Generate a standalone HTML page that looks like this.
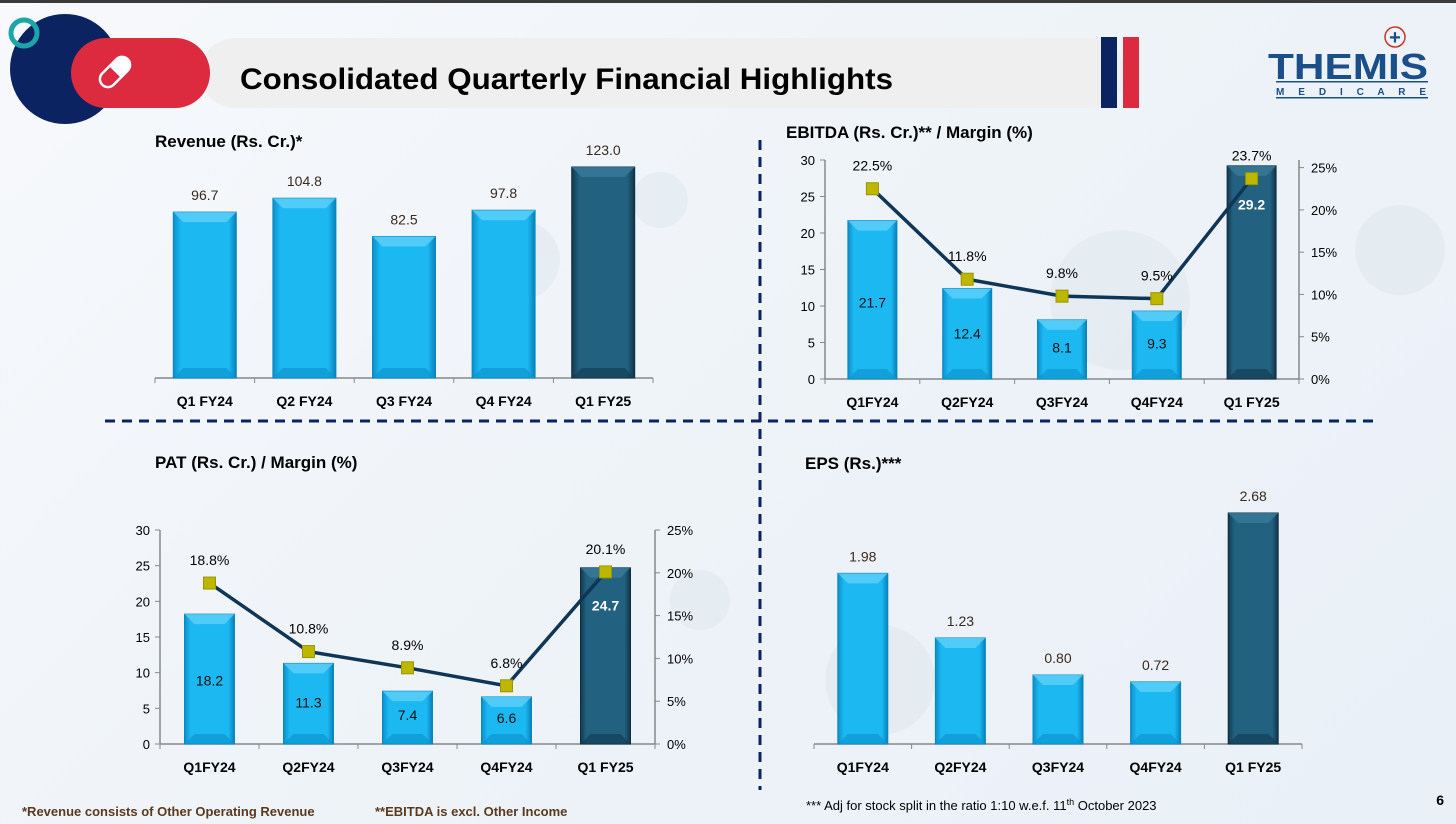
<!DOCTYPE html>
<html><head><meta charset="utf-8"><style>
html,body{margin:0;padding:0;width:1456px;height:824px;overflow:hidden;font-family:"Liberation Sans",sans-serif}
body{background:linear-gradient(135deg,#f7f9fc 0%,#eef3f8 50%,#e9f0f7 100%)}
svg text{font-family:"Liberation Sans",sans-serif}
</style></head><body>
<svg id="s" width="1456" height="824" xmlns="http://www.w3.org/2000/svg">
<defs>
<linearGradient id="lb" x1="0" x2="1"><stop offset="0" stop-color="#0b8fcc"/><stop offset="0.12" stop-color="#1bb8f2"/><stop offset="0.88" stop-color="#1bb8f2"/><stop offset="1" stop-color="#0a7fb6"/></linearGradient>
<linearGradient id="db" x1="0" x2="1"><stop offset="0" stop-color="#12394f"/><stop offset="0.12" stop-color="#22617f"/><stop offset="0.88" stop-color="#22617f"/><stop offset="1" stop-color="#10344a"/></linearGradient>
</defs>
<rect x="0" y="0" width="1456" height="3" fill="#3a3a3a"/>
<g fill="#dfe7ef" opacity="0.6">
<circle cx="520" cy="260" r="40"/><circle cx="660" cy="200" r="28"/><circle cx="1120" cy="300" r="70"/><circle cx="880" cy="680" r="55"/><circle cx="1400" cy="250" r="45"/><circle cx="700" cy="600" r="30"/>
</g>
<g>
<rect x="200" y="38" width="925" height="70" rx="35" fill="#efefef"/>
<circle cx="65" cy="69" r="55" fill="#0b2461"/>
<circle cx="24" cy="33" r="13" fill="none" stroke="#1ea5aa" stroke-width="5"/>
<rect x="71" y="38" width="139" height="70" rx="35" fill="#dc2a3e"/>
<g transform="translate(115,72) rotate(-45)"><rect x="-18" y="-8" width="36" height="16" rx="8" fill="none" stroke="#fff" stroke-width="2.5"/><path d="M0,-8 L10,-8 A8,8 0 0 1 10,8 L0,8 Z" fill="#fff"/></g>
<text x="240" y="89" font-size="30" font-weight="bold" fill="#000" textLength="653" lengthAdjust="spacingAndGlyphs">Consolidated Quarterly Financial Highlights</text>
<rect x="1101" y="37" width="16" height="71" fill="#0b2461"/>
<rect x="1123" y="37" width="16" height="71" fill="#dc2a3e"/>
<g>
<circle cx="1395" cy="37" r="10" fill="none" stroke="#c0392b" stroke-width="1.5"/><text x="1395" y="44" font-size="20" font-weight="bold" fill="#1b4f8a" text-anchor="middle">+</text>
<text x="1268" y="79" font-size="36" font-weight="bold" fill="#1b4f8a" textLength="160" lengthAdjust="spacingAndGlyphs">THEMIS</text>
<rect x="1276" y="81" width="152" height="1.5" fill="#1b4f8a"/>
<text x="1276" y="95" font-size="10" font-weight="bold" fill="#1b4f8a" textLength="150" lengthAdjust="spacing">M E D I C A R E</text>
<rect x="1276" y="97" width="152" height="1.5" fill="#1b4f8a"/>
</g>
</g>
<line x1="105" y1="421" x2="1375" y2="421" stroke="#0b2461" stroke-width="3" stroke-dasharray="10,7"/>
<line x1="760" y1="140" x2="760" y2="790" stroke="#0b2461" stroke-width="3" stroke-dasharray="10,7"/>
<text x="155" y="147" font-size="17" font-weight="bold">Revenue (Rs. Cr.)*</text>
<text x="786" y="138" font-size="17" font-weight="bold">EBITDA (Rs. Cr.)** / Margin (%)</text>
<text x="155" y="468" font-size="17" font-weight="bold">PAT (Rs. Cr.) / Margin (%)</text>
<text x="805" y="469" font-size="17" font-weight="bold">EPS (Rs.)***</text>
<text x="22" y="816" font-size="13" font-weight="bold" fill="#5a3a1e">*Revenue consists of Other Operating Revenue</text>
<text x="375" y="816" font-size="13" font-weight="bold" fill="#5a3a1e">**EBITDA is excl. Other Income</text>
<text x="806" y="810" font-size="13" fill="#000">*** Adj for stock split in the ratio 1:10 w.e.f. 11<tspan dy="-5" font-size="9">th</tspan><tspan dy="5"> October 2023</tspan></text>
<text x="1444" y="805" font-size="14" font-weight="bold" text-anchor="end">6</text>
<g id="charts"></g>
</svg>
<script>
const revCats=["Q1 FY24","Q2 FY24","Q3 FY24","Q4 FY24","Q1 FY25"];
const revVals=[96.7,104.8,82.5,97.8,123.0];
const revLabels=["96.7","104.8","82.5","97.8","123.0"];
const qCats=["Q1FY24","Q2FY24","Q3FY24","Q4FY24","Q1 FY25"];
const ebitdaVals=[21.7,12.4,8.1,9.3,29.2];
const ebitdaMargin=[22.5,11.8,9.8,9.5,23.7];
const patVals=[18.2,11.3,7.4,6.6,24.7];
const patMargin=[18.8,10.8,8.9,6.8,20.1];
const epsVals=[1.98,1.23,0.80,0.72,2.68];
const epsLabels=["1.98","1.23","0.80","0.72","2.68"];
const leftTicks=[0,5,10,15,20,25,30];
const rightTicks=[0,5,10,15,20,25];

const NS="http://www.w3.org/2000/svg";
const root=document.getElementById('charts');
function mk(tag,attrs,parent,txt){const e=document.createElementNS(NS,tag);for(const k in attrs)e.setAttribute(k,attrs[k]);if(txt!==undefined)e.textContent=txt;(parent||root).appendChild(e);return e;}

function chart(o){
  const g=mk('g',{});
  
  
  const n=o.cats.length,band=(o.x1-o.x0)/n;
  const cx=i=>o.x0+band*(i+0.5);
  const y=v=>o.y0-(v/o.max)*(o.y0-o.yTop);
  const yr=v=>o.y0-(v/o.rmax)*(o.y0-o.yTop);
  const ax=mk('line',{x1:o.x0,y1:o.y0,x2:o.x1,y2:o.y0,stroke:'#888','stroke-width':1.5},g);
  
  
  for(let i=0;i<=n;i++){mk('line',{x1:o.x0+band*i,y1:o.y0,x2:o.x0+band*i,y2:o.y0+5,stroke:'#888'},g);}
  if(o.left){
    const la=mk('line',{x1:o.x0,y1:o.yTop,x2:o.x0,y2:o.y0,stroke:'#888','stroke-width':1.5},g);
    
    
    leftTicks.forEach(t=>{mk('line',{x1:o.x0-5,y1:y(t),x2:o.x0,y2:y(t),stroke:'#888'},g);
      const tl=mk('text',{x:o.x0-10,y:y(t)+5,'font-size':13,'text-anchor':'end'},g,String(t));
      
      });
  }
  if(o.right){
    const ra=mk('line',{x1:o.x1,y1:o.yTop,x2:o.x1,y2:o.y0,stroke:'#888','stroke-width':1.5},g);
    
    
    rightTicks.forEach(t=>{mk('line',{x1:o.x1,y1:yr(t),x2:o.x1+5,y2:yr(t),stroke:'#888'},g);
      const tl=mk('text',{x:o.x1+12,y:yr(t)+5,'font-size':13},g,t+'%');
      
      });
  }
  o.cats.forEach((c,i)=>{
    const t=mk('text',{x:cx(i),y:o.y0+28,'font-size':14,'font-weight':'bold','text-anchor':'middle'},g,c);
    
    
  });
  o.vals.forEach((v,i)=>{
    const last=i===n-1,w=o.bw,x=cx(i)-w/2,top=y(v),h=o.y0-top;
    const b=mk('rect',{x:x,y:top,width:w,height:h,fill:last?'url(#db)':'url(#lb)',stroke:last?'#0e2f42':'#0a86c0','stroke-width':1},g);
    
    
    const bv=Math.min(10,h/2);
    mk('polygon',{points:`${x},${top} ${x+w},${top} ${x+w-bv},${top+bv} ${x+bv},${top+bv}`,fill:last?'#3a7b99':'#5fd0f7',opacity:0.8},g);
    mk('polygon',{points:`${x},${top+h} ${x+w},${top+h} ${x+w-bv},${top+h-bv} ${x+bv},${top+h-bv}`,fill:last?'#133e55':'#0d95cf',opacity:0.7},g);
    let lbl=o.labels?o.labels[i]:v.toFixed(1);
    let ly,col;
    if(o.inside){ly=last?top+(y(0)-y(5))*1.2:top+h*0.55;col=last?'#fff':'#111';}
    else {ly=top-12;col='#3b2a1e';}
    const t=mk('text',{x:cx(i),y:ly,'font-size':14,'text-anchor':'middle',fill:col,'font-weight':(o.inside&&last)?'bold':'normal'},g,lbl);
    
    
  });
  if(o.margin){
    const pts=o.margin.map((m,i)=>cx(i)+','+yr(m)).join(' ');
    const l=mk('polyline',{points:pts,fill:'none',stroke:'#0f3557','stroke-width':3.5},g);
    
    
    o.margin.forEach((m,i)=>{
      const p=mk('rect',{x:cx(i)-6,y:yr(m)-6,width:12,height:12,fill:'#bdb700',stroke:'#9a9500'},g);
      
      
      const t=mk('text',{x:cx(i),y:yr(m)-18,'font-size':14,'text-anchor':'middle'},g,m.toFixed(1)+'%');
      
      
    });
  }
}
chart({name:'revenue-chart',cats:revCats,vals:revVals,labels:revLabels,x0:155,x1:653,y0:378,yTop:167,max:123,bw:63});
chart({name:'ebitda-chart',cats:qCats,vals:ebitdaVals,margin:ebitdaMargin,x0:825,x1:1299,y0:379,yTop:160,max:30,rmax:25.9,bw:49,left:true,right:true,inside:true});
chart({name:'pat-chart',cats:qCats,vals:patVals,margin:patMargin,x0:160,x1:655,y0:744,yTop:530,max:30,rmax:25,bw:50,left:true,right:true,inside:true});
chart({name:'eps-chart',cats:qCats,vals:epsVals,labels:epsLabels,x0:814,x1:1302,y0:744,yTop:513,max:2.68,bw:50});
</script>
</body></html>
